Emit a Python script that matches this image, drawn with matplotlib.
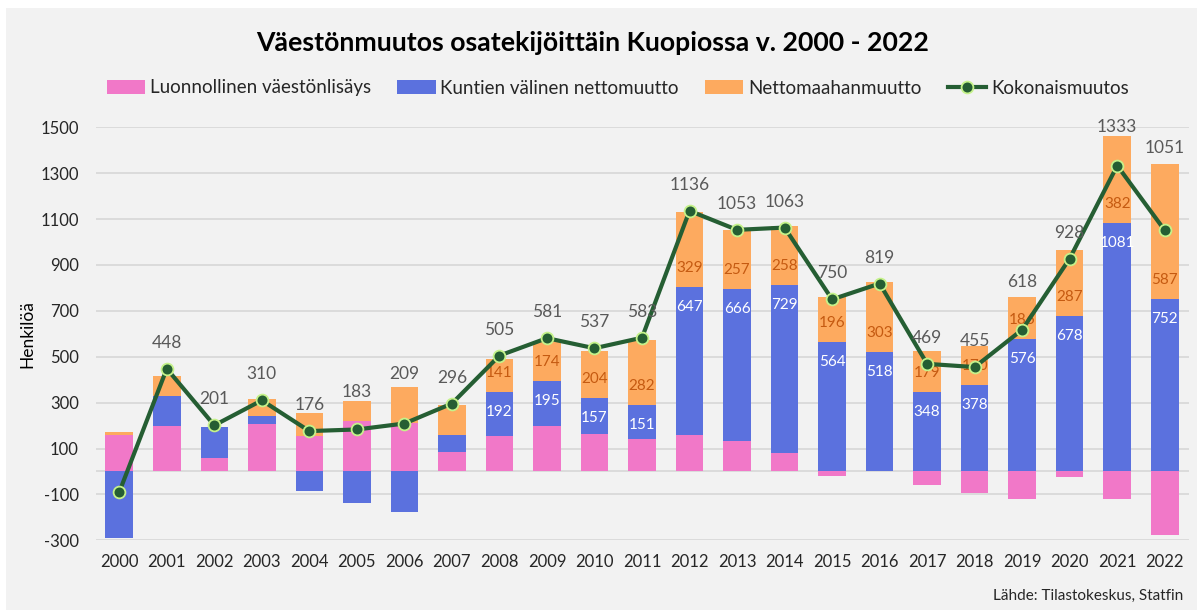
import matplotlib
matplotlib.use("Agg")
import matplotlib.pyplot as plt
import numpy as np
from matplotlib.lines import Line2D
from matplotlib.patches import Patch, Rectangle


YEARS = list(range(2000, 2023))

# Luonnollinen väestönlisäys
NATURAL = [160, 200, 60, 205, 153, 222, 211, 87, 155, 200, 165, 140, 157,
           131, 82, -20, 4, -57, -92, -122, -26, -118, -276]
# Kuntien välinen nettomuutto
INTERNAL = [-289, 131, 132, 36, -87, -137, -176, 70, 192, 195, 157, 151, 647,
            666, 729, 564, 518, 348, 378, 576, 678, 1081, 752]
# Nettomaahanmuutto
IMMIGRATION = [10, 87, 0, 73, 100, 83, 155, 131, 141, 174, 204, 282, 329,
               257, 258, 196, 303, 179, 170, 186, 287, 382, 587]
# Kokonaismuutos
TOTAL = [-90, 448, 201, 310, 176, 183, 209, 296, 505, 581, 537, 583, 1136,
         1053, 1063, 750, 819, 469, 455, 618, 928, 1333, 1051]

SERIES_NAMES = ["Luonnollinen väestönlisäys", "Kuntien välinen nettomuutto",
                "Nettomaahanmuutto", "Kokonaismuutos"]
TITLE = "Väestönmuutos osatekijöittäin Kuopiossa v. 2000 - 2022"
SOURCE = "Lähde: Tilastokeskus, Statfin"
Y_LABEL = "Henkilöä"
Y_TICKS = list(range(-300, 1501, 200))

PINK = "#f178c8"
BLUE = "#5b71de"
ORANGE = "#fdaa5f"
GREEN = "#255e33"
MARKER_EDGE = "#c5f28a"
BG = "#f2f2f2"

plt.rcParams["font.family"] = ["Lato", "DejaVu Sans"]
plt.rcParams["axes.unicode_minus"] = False


def stack_bars(ax, x, series, colors, width):
    pos = np.zeros(len(x))
    neg = np.zeros(len(x))
    tops = []
    for values, color in zip(series, colors):
        values = np.asarray(values, dtype=float)
        bottom = np.where(values >= 0, pos, neg)
        ax.bar(x, values, width, bottom=bottom, color=color, zorder=2)
        pos = pos + np.clip(values, 0, None)
        neg = neg + np.clip(values, None, 0)
        tops.append(bottom + values)
    return tops


def main():
    fig = plt.figure(figsize=(11.97, 6.10), dpi=100, facecolor="white")
    fig.patches.append(Rectangle((6 / 1197, 0), 1, 1 - 8 / 610, transform=fig.transFigure,
                                 facecolor=BG, edgecolor="none", zorder=-10))
    ax = fig.add_axes([95.5 / 1197, 1 - 540.3 / 610, 1093 / 1197, 413 / 610])
    ax.set_facecolor(BG)

    x = np.arange(len(YEARS))
    width = 0.58
    tops = stack_bars(ax, x, [NATURAL, INTERNAL, IMMIGRATION], [PINK, BLUE, ORANGE], width)

    ax.plot(x, TOTAL, color=GREEN, lw=3, marker="o", ms=8.5, mfc=GREEN,
            mec=MARKER_EDGE, mew=1.3, zorder=4)

    # segment labels from 2008 on: blue at inside end, orange at inside base
    for i, year in enumerate(YEARS):
        if year < 2008:
            continue
        ax.annotate(str(INTERNAL[i]), (x[i], tops[1][i]), xytext=(0, -20),
                    textcoords="offset pixels", ha="center", va="center",
                    fontsize=11, color="white", zorder=3)
        ax.annotate(str(IMMIGRATION[i]), (x[i], tops[1][i]), xytext=(0, 19),
                    textcoords="offset pixels", ha="center", va="center",
                    fontsize=11, color="#c55a11", zorder=3)

    # total labels above markers, a few nudged up as in the original
    lift = {2005: 11, 2006: 24, 2019: 22, 2021: 13, 2022: 56}
    for i, year in enumerate(YEARS):
        if year == 2000:
            continue
        ax.annotate(str(TOTAL[i]), (x[i], TOTAL[i]), xytext=(0, 26 + lift.get(year, 0)),
                    textcoords="offset pixels", ha="center", va="center",
                    fontsize=12.5, color="#595959", zorder=5)

    ax.set_xlim(-0.5, len(YEARS) - 0.5)
    ax.set_ylim(-300, 1500)
    ax.set_yticks(Y_TICKS)
    ax.set_xticks(x)
    ax.set_xticklabels([str(y) for y in YEARS])
    ax.tick_params(length=0, labelsize=12, colors="#262626")
    ax.tick_params(axis="x", pad=10)
    ax.tick_params(axis="y", pad=12)
    ax.grid(axis="y", color="#d9d9d9", lw=1.3, zorder=0)
    ax.axhline(0, color="#d9d9d9", lw=1.3, zorder=1)
    for s in ax.spines.values():
        s.set_visible(False)
    ax.set_ylabel(Y_LABEL, fontsize=12.5, color="black")
    ax.yaxis.set_label_coords(-0.055, 0.5)

    fig.text(0.495, 1 - 43 / 610, TITLE, ha="center", va="center",
             fontsize=19.2, fontweight="bold", color="black")
    fig.text(1183 / 1197, 1 - 596 / 610, SOURCE, ha="right", va="center",
             fontsize=11, color="#262626")

    handles = [Patch(facecolor=PINK), Patch(facecolor=BLUE), Patch(facecolor=ORANGE),
               Line2D([], [], color=GREEN, lw=3, marker="o", ms=8.5, mfc=GREEN,
                      mec=MARKER_EDGE, mew=1.3)]
    fig.legend(handles, SERIES_NAMES, loc="center", bbox_to_anchor=(0.516, 1 - 88 / 610),
               ncol=4, frameon=False, fontsize=13.5, handlelength=2.05, handleheight=0.7,
               handletextpad=0.25, columnspacing=1.4, labelcolor="#262626")

    fig.savefig("out.png", dpi=100, facecolor="white")
    plt.close(fig)


if __name__ == "__main__":
    main()
